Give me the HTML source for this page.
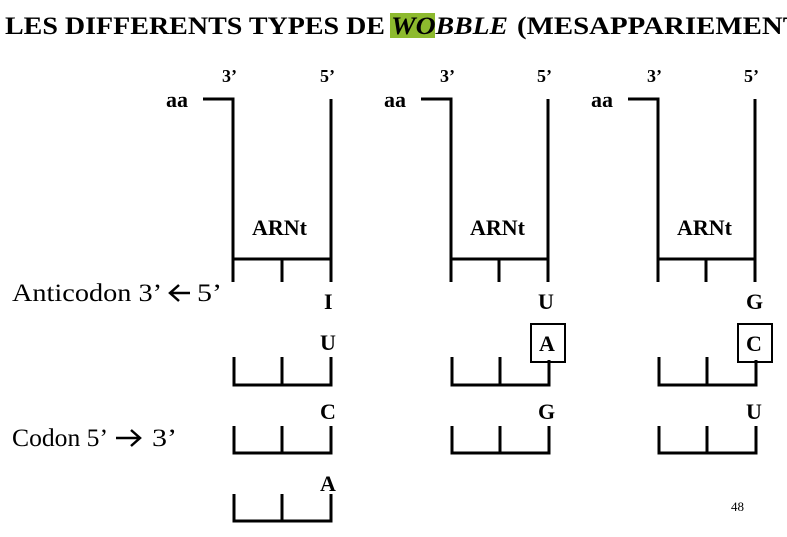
<!DOCTYPE html>
<html><head><meta charset="utf-8"><style>
html,body{margin:0;padding:0;background:#fff;overflow:hidden}
svg{display:block}
text{font-family:"Liberation Serif",serif;fill:#000}
</style></head><body>
<svg width="787" height="537" viewBox="0 0 787 537" xmlns="http://www.w3.org/2000/svg">
<rect x="390" y="13" width="45" height="25" fill="#8dba2e"/>
<text x="5" y="34" font-size="25" font-weight="bold" textLength="380" lengthAdjust="spacingAndGlyphs">LES DIFFERENTS TYPES DE</text>
<text x="391" y="34" font-size="25" font-weight="bold" font-style="italic" textLength="117" lengthAdjust="spacingAndGlyphs">WOBBLE</text>
<text x="517" y="34" font-size="25" font-weight="bold" textLength="285" lengthAdjust="spacingAndGlyphs">(MESAPPARIEMENT</text>
<g stroke="#000" stroke-width="3" fill="none">
<path d="M203 99H233V282M331 99V282M233 259H331M282 259V282"/>
<path d="M421 99H451V282M548 99V282M451 259H548M499 259V282"/>
<path d="M628 99H658V282M755 99V282M658 259H755M706 259V282"/>
<path d="M234 357V385H331V357M282 357V385"/>
<path d="M234 426V453H331V426M282 426V453"/>
<path d="M234 494V521H331V494M282 494V521"/>
<path d="M452 357V385H549V360M500 357V385"/>
<path d="M452 426V453H549V426M500 426V453"/>
<path d="M659 357V385H756V360M707 357V385"/>
<path d="M659 426V453H756V426M707 426V453"/>
</g>
<rect x="531" y="324" width="34" height="38" fill="none" stroke="#000" stroke-width="2"/>
<rect x="738" y="324" width="34" height="38" fill="none" stroke="#000" stroke-width="2"/>
<g font-weight="bold" font-size="18">
<text x="222" y="82">3’</text><text x="320" y="82">5’</text>
<text x="440" y="82">3’</text><text x="537" y="82">5’</text>
<text x="647" y="82">3’</text><text x="744" y="82">5’</text>
</g>
<g font-weight="bold" font-size="22">
<text x="166" y="107">aa</text><text x="384" y="107">aa</text><text x="591" y="107">aa</text>
<text x="252" y="235">ARNt</text><text x="470" y="235">ARNt</text><text x="677" y="235">ARNt</text>
<text x="324" y="309">I</text><text x="538" y="309">U</text><text x="746" y="309">G</text>
<text x="320" y="350">U</text><text x="539" y="351">A</text><text x="746" y="351">C</text>
<text x="320" y="419">C</text><text x="538" y="419">G</text><text x="746" y="419">U</text>
<text x="320" y="491">A</text>
</g>
<text x="12" y="301" font-size="25" textLength="150" lengthAdjust="spacingAndGlyphs">Anticodon 3’</text>
<path d="M190 293H171M179 285L170 293L179 301" stroke="#000" stroke-width="2.5" fill="none"/>
<text x="197" y="301" font-size="25" textLength="25" lengthAdjust="spacingAndGlyphs">5’</text>
<text x="12" y="446" font-size="25" textLength="96" lengthAdjust="spacingAndGlyphs">Codon 5’</text>
<path d="M116 438H139M131 430L140 438L131 446" stroke="#000" stroke-width="2.5" fill="none"/>
<text x="152" y="446" font-size="25" textLength="25" lengthAdjust="spacingAndGlyphs">3’</text>
<text x="731" y="511" font-size="13">48</text>
</svg>
</body></html>
